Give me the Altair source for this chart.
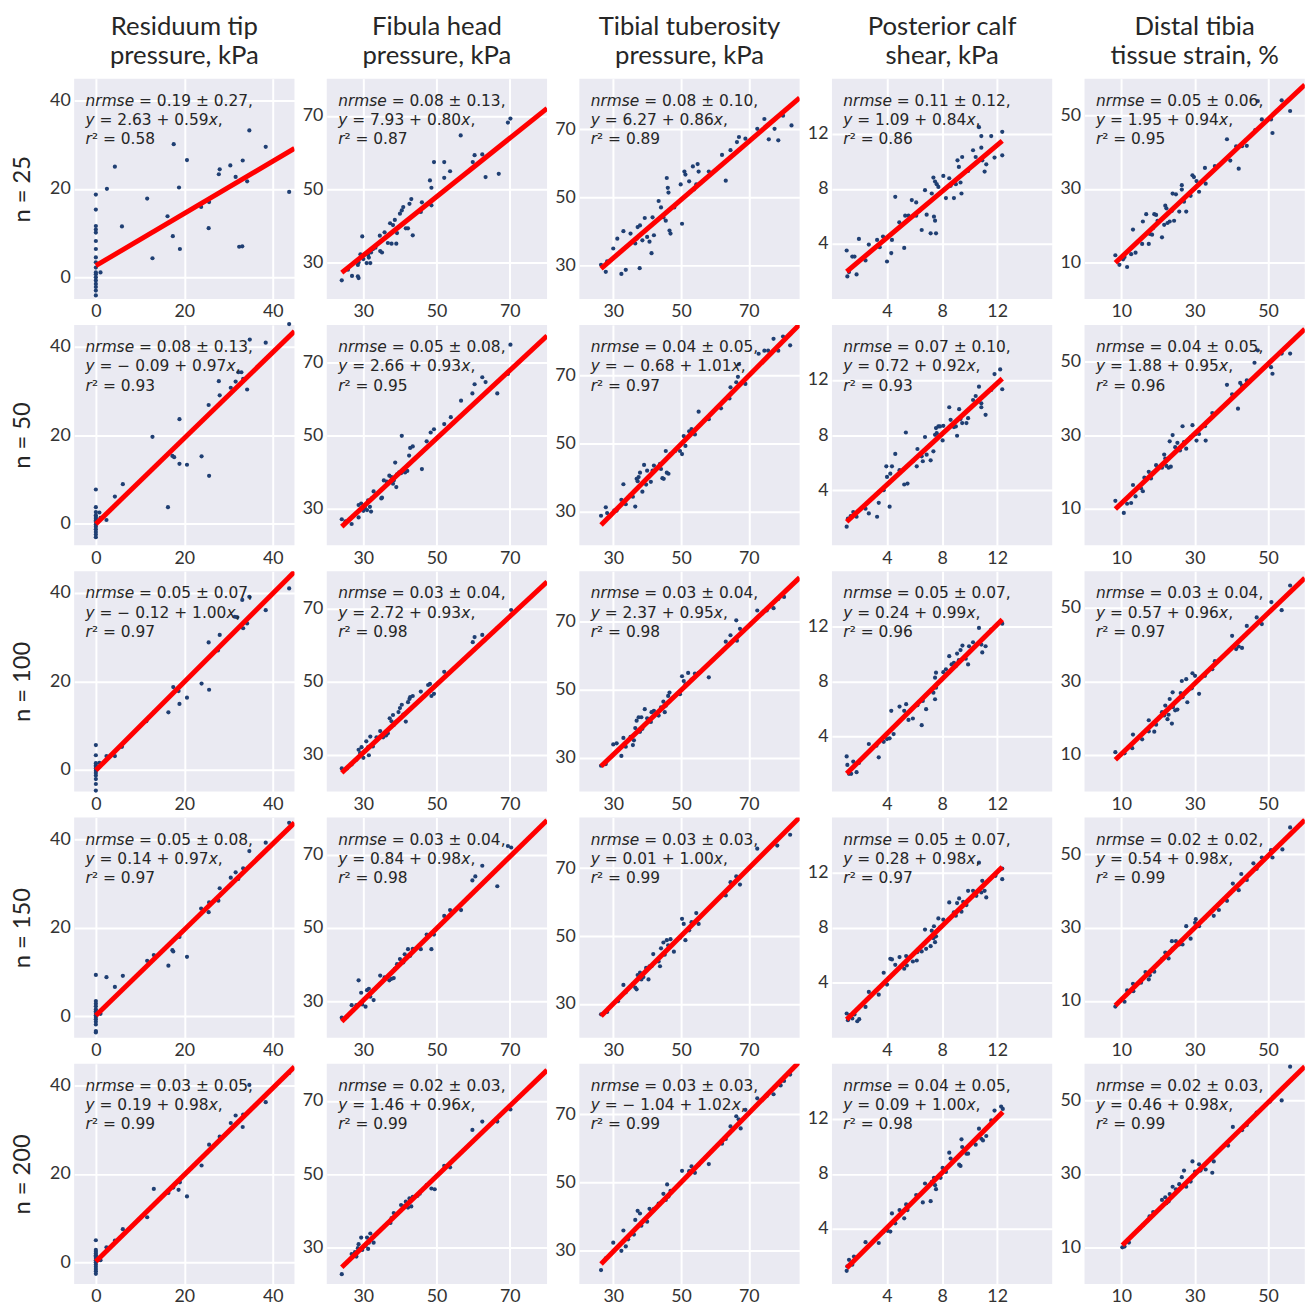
import altair as alt
import pandas as pd

COL_TITLES = [["Residuum tip", "pressure, kPa"], ["Fibula head", "pressure, kPa"],
              ["Tibial tuberosity", "pressure, kPa"], ["Posterior calf", "shear, kPa"],
              ["Distal tibia", "tissue strain, %"]]
ROW_LABELS = ["n = 25", "n = 50", "n = 100", "n = 150", "n = 200"]
DOMAINS = [[-4.9, 44.9], [20.0, 80.2], [20.0, 85.0], [0.0, 16.0], [0.0, 60.0]]
TICKS = [[0, 20, 40], [30, 50, 70], [30, 50, 70], [4, 8, 12], [10, 30, 50]]
LINE_TO_EDGE = [True, True, True, False, True]

NRMSE_MEAN = [[0.19, 0.08, 0.08, 0.11, 0.05], [0.08, 0.05, 0.04, 0.07, 0.04],
              [0.05, 0.03, 0.03, 0.05, 0.03], [0.05, 0.03, 0.03, 0.05, 0.02],
              [0.03, 0.02, 0.03, 0.04, 0.02]]
NRMSE_STD = [[0.27, 0.13, 0.10, 0.12, 0.06], [0.13, 0.08, 0.05, 0.10, 0.05],
             [0.07, 0.04, 0.04, 0.07, 0.04], [0.08, 0.04, 0.03, 0.07, 0.02],
             [0.05, 0.03, 0.03, 0.05, 0.03]]
INTERCEPT = [[2.63, 7.93, 6.27, 1.09, 1.95], [-0.09, 2.66, -0.68, 0.72, 1.88],
             [-0.12, 2.72, 2.37, 0.24, 0.57], [0.14, 0.84, 0.01, 0.28, 0.54],
             [0.19, 1.46, -1.04, 0.09, 0.46]]
SLOPE = [[0.59, 0.80, 0.86, 0.84, 0.94], [0.97, 0.93, 1.01, 0.92, 0.95],
         [1.00, 0.93, 0.95, 0.99, 0.96], [0.97, 0.98, 1.00, 0.98, 0.98],
         [0.98, 0.96, 1.02, 1.00, 0.98]]
R2 = [[0.58, 0.87, 0.89, 0.86, 0.95], [0.93, 0.95, 0.97, 0.93, 0.96],
      [0.97, 0.98, 0.98, 0.96, 0.97], [0.97, 0.98, 0.99, 0.97, 0.99],
      [0.99, 0.99, 0.99, 0.98, 0.99]]

# ---- points (true value, predicted value) per panel ----
r1c1 = [(0, 18.7), (0, 15.3), (0, 11.6), (0, 10.8), (0, 10.1), (0, 8.2), (0, 6.4), (0, 4.5), (0, 3.4),
        (0, 2.2), (0, 1.1), (0, 0.7), (0, 0.0), (0, -0.7), (0, -1.5), (0, -2.2), (0, -3.0), (0, -4.1),
        (1.05, 1.1), (2.5, 20.0), (4.3, 25.0), (5.9, 11.5), (11.6, 17.8), (12.8, 4.3), (16.2, 13.8),
        (17.4, 9.3), (17.6, 30.1), (18.8, 20.3), (19.0, 6.4), (20.6, 26.5), (23.8, 15.9), (25.6, 17.0),
        (25.5, 11.1), (27.8, 23.3), (28.0, 24.4), (30.4, 25.3), (31.6, 22.7), (32.4, 6.9), (33.1, 7.0),
        (33.2, 26.4), (34.2, 21.7), (34.7, 33.2), (38.4, 29.5), (43.7, 19.3)]
r1c2 = [(24.1, 25.1), (25.8, 28.0), (26.9, 26.3), (28.5, 26.2), (28.7, 25.7), (28.5, 29.3), (28.7, 30.0),
        (29.2, 32.2), (29.7, 37.1), (30.0, 30.9), (30.5, 32.2), (30.9, 29.8), (31.3, 32.0), (31.5, 31.3),
        (31.9, 29.8), (32.1, 32.7), (32.6, 33.6), (33.3, 34.0), (34.6, 33.1), (35.1, 32.7), (34.5, 37.3),
        (35.8, 38.2), (36.7, 35.3), (37.7, 35.1), (39.0, 35.1), (37.3, 40.7), (38.1, 40.2), (38.6, 41.6),
        (39.2, 38.0), (40.0, 43.3), (40.5, 44.2), (40.9, 45.1), (41.6, 39.3), (42.2, 39.3), (42.6, 46.0),
        (43.1, 47.3), (43.5, 37.4), (45.7, 43.8), (46.0, 46.4), (48.2, 52.4), (48.6, 50.4), (48.6, 45.6),
        (49.3, 57.4), (52.1, 57.4), (52.1, 53.1), (53.7, 54.9), (56.6, 64.7), (59.9, 57.4), (60.4, 59.3),
        (62.5, 59.5), (63.4, 53.3), (67.0, 54.2), (69.5, 68.2), (70.2, 69.3)]
r1c3 = [(26.4, 30.1), (27.8, 28.0), (28.2, 31.1), (30.0, 34.9), (31.2, 37.8), (32.4, 27.4), (33.7, 28.6),
        (33.0, 40.0), (35.1, 39.3), (35.8, 36.9), (36.5, 36.4), (36.9, 37.8), (37.2, 41.2), (37.9, 41.7),
        (37.8, 29.1), (38.6, 37.3), (39.3, 43.9), (40.0, 38.3), (40.7, 36.9), (41.3, 33.5), (41.6, 44.1),
        (42.0, 38.8), (43.4, 48.9), (44.1, 47.0), (44.8, 44.1), (45.5, 43.1), (45.8, 55.7), (46.1, 52.8),
        (46.3, 51.4), (46.6, 40.2), (46.9, 39.3), (48.0, 47.0), (49.9, 53.8), (50.3, 42.2), (51.0, 57.6),
        (51.3, 56.7), (52.4, 54.7), (53.5, 59.1), (53.8, 52.3), (54.5, 53.8), (54.9, 59.8), (55.2, 57.6),
        (58.2, 57.6), (62.1, 62.5), (63.2, 54.9), (64.6, 63.9), (66.5, 66.3), (67.1, 67.8), (69.0, 67.3),
        (72.5, 70.2), (74.6, 73.1), (75.9, 67.1), (77.6, 70.2), (78.7, 66.8), (80.1, 74.1), (82.6, 71.2)]
r1c4 = [(1.07, 3.52), (1.12, 1.64), (1.24, 1.95), (1.48, 3.08), (1.64, 3.08), (1.79, 1.78), (1.96, 4.36),
        (2.44, 2.80), (2.68, 3.95), (3.28, 4.29), (3.47, 3.76), (3.71, 4.53), (4.0, 2.72), (4.31, 3.33),
        (4.36, 4.29), (4.60, 7.42), (4.89, 5.57), (5.25, 3.71), (5.32, 6.05), (5.56, 6.05), (5.80, 7.18),
        (6.12, 7.01), (6.12, 6.05), (6.36, 6.41), (6.52, 5.01), (6.76, 7.90), (6.88, 6.12), (7.17, 4.77),
        (7.25, 7.66), (7.37, 8.82), (7.41, 5.98), (7.49, 5.69), (7.49, 8.53), (7.56, 4.77), (7.61, 8.34),
        (7.73, 8.14), (7.85, 7.66), (8.09, 8.94), (8.28, 7.33), (8.52, 8.77), (8.62, 8.22), (8.86, 7.33),
        (9.0, 8.34), (9.12, 10.07), (9.22, 9.59), (9.34, 8.46), (9.41, 7.66), (9.46, 10.31), (9.89, 9.30),
        (10.25, 10.80), (10.44, 10.31), (10.68, 12.48), (10.85, 11.83), (10.85, 10.99), (10.92, 10.07),
        (11.09, 9.25), (11.21, 9.78), (11.57, 11.83), (11.81, 10.27), (12.37, 12.14), (12.37, 10.43)]
r1c5 = [(8.4, 11.9), (9.5, 9.3), (10.5, 10.8), (10.9, 11.4), (11.6, 8.7), (12.7, 12.2), (13.2, 18.9),
        (13.9, 12.6), (15.9, 21.1), (15.7, 15.0), (16.8, 23.1), (17.5, 15.0), (17.8, 17.7), (18.4, 17.5),
        (18.7, 19.3), (19.0, 23.1), (19.5, 22.9), (19.9, 21.3), (21.1, 16.8), (21.7, 20.2), (22.0, 25.4),
        (22.3, 24.7), (22.6, 20.7), (23.2, 21.1), (23.8, 24.0), (24.4, 21.3), (24.0, 28.7), (24.9, 28.5),
        (25.8, 23.8), (26.5, 31.0), (26.5, 29.8), (27.1, 26.5), (27.7, 23.8), (28.9, 28.1), (29.4, 33.7),
        (29.8, 33.2), (30.5, 32.1), (31.2, 29.2), (32.8, 35.7), (33.0, 31.4), (35.5, 36.2), (36.6, 36.4),
        (38.8, 43.5), (39.7, 37.7), (41.3, 41.6), (42.0, 35.5), (42.9, 41.6), (44.2, 41.7), (46.5, 46.0),
        (47.2, 53.9), (48.3, 48.9), (50.8, 48.9), (51.2, 45.2), (53.7, 54.1), (56.0, 51.2)]

r2c1 = [(0, 7.7), (0, 3.7), (0, 2.6), (0, 1.9), (0, 1.5), (0, 1.1), (0, 0.7), (0, 0.4), (0, -0.2), (0, -0.7),
        (0, -1.3), (0, -1.9), (0, -2.5), (0, -3.1), (0.8, 2.5), (1.05, 1.3), (2.4, 0.8), (4.3, 6.1),
        (6.1, 8.9), (12.8, 19.6), (16.3, 3.7), (17.3, 15.3), (17.7, 15.0), (18.9, 23.6), (18.9, 13.5),
        (20.6, 13.3), (23.9, 15.2), (25.5, 26.8), (25.6, 10.8), (27.8, 32.2), (28.0, 29.0), (30.5, 30.7),
        (31.6, 32.1), (32.2, 34.2), (32.9, 34.2), (33.3, 32.7), (34.2, 30.3), (34.8, 41.6), (38.4, 40.9),
        (43.7, 45.1)]
r2c2 = [(24.1, 27.1), (25.1, 26.5), (26.8, 25.8), (28.7, 27.6), (28.7, 31.0), (29.4, 31.4), (30.0, 29.4),
        (30.4, 30.3), (31.0, 29.6), (31.3, 32.3), (31.8, 30.5), (32.1, 29.2), (32.3, 32.8), (32.8, 34.7),
        (34.9, 32.8), (35.1, 33.0), (35.6, 37.7), (36.4, 37.4), (37.1, 39.0), (37.7, 38.6), (38.1, 36.8),
        (38.3, 37.7), (38.7, 42.6), (39.0, 35.9), (39.2, 39.4), (39.8, 39.9), (40.3, 39.7), (40.5, 49.9),
        (40.9, 40.3), (41.4, 39.9), (42.0, 40.3), (42.5, 44.5), (42.8, 46.6), (43.5, 47.0), (46.0, 40.8),
        (47.3, 48.4), (48.4, 50.8), (49.3, 51.7), (52.1, 53.1), (53.9, 55.0), (56.7, 59.5), (59.8, 61.5),
        (60.4, 64.0), (62.5, 65.9), (63.4, 64.6), (66.6, 61.5), (69.5, 66.8), (70.2, 74.8)]
r2c3 = [(26.4, 28.7), (27.8, 31.2), (28.2, 29.5), (30.3, 30.2), (31.0, 30.2), (32.4, 33.4), (33.0, 38.0),
        (33.7, 32.1), (35.1, 34.8), (35.8, 34.3), (36.5, 31.4), (36.9, 39.6), (37.2, 38.9), (37.5, 40.1),
        (37.9, 41.4), (38.6, 35.8), (39.1, 43.7), (39.7, 37.9), (40.0, 42.0), (41.1, 38.7), (41.6, 42.0),
        (42.0, 43.5), (42.7, 42.5), (43.8, 44.0), (44.1, 42.5), (44.5, 39.8), (44.9, 39.6), (45.5, 47.8),
        (45.8, 41.4), (46.3, 41.1), (46.9, 46.9), (48.3, 47.8), (49.7, 47.8), (50.3, 46.9), (50.8, 52.2),
        (51.3, 49.3), (52.4, 53.6), (53.1, 54.3), (54.1, 52.7), (55.2, 59.4), (58.2, 57.2), (61.8, 60.4),
        (64.3, 63.3), (64.6, 66.6), (66.3, 68.1), (66.8, 69.7), (67.1, 73.4), (69.0, 67.6), (72.9, 76.5),
        (74.6, 77.4), (75.7, 77.4), (77.3, 80.9), (80.1, 81.6), (78.7, 77.4), (82.2, 79.0)]
r2c4 = [(1.07, 1.35), (1.16, 1.93), (1.36, 2.12), (1.55, 2.41), (1.79, 2.07), (2.44, 2.65), (2.68, 2.31),
        (3.28, 2.07), (3.40, 3.08), (3.76, 4.0), (3.95, 5.73), (4.0, 4.96), (4.19, 2.80), (4.24, 5.20),
        (4.36, 5.73), (4.60, 6.63), (4.91, 5.45), (5.25, 4.41), (5.37, 8.19), (5.49, 4.48), (5.88, 6.10),
        (6.16, 5.73), (6.21, 6.99), (6.52, 6.46), (6.60, 6.10), (6.76, 7.86), (6.88, 6.58), (7.17, 6.17),
        (7.37, 6.82), (7.49, 8.02), (7.56, 8.51), (7.61, 8.14), (7.73, 8.63), (7.85, 8.63), (8.04, 7.61),
        (8.09, 8.67), (8.52, 10.02), (8.62, 9.11), (8.86, 8.58), (9.0, 8.63), (9.09, 7.95), (9.24, 9.88),
        (9.34, 9.16), (9.46, 8.87), (9.77, 8.87), (9.89, 9.23), (10.25, 10.55), (10.44, 10.84),
        (10.68, 11.52), (10.85, 10.31), (10.85, 10.02), (11.16, 9.47), (11.57, 11.28), (11.81, 12.43),
        (12.22, 12.77), (12.37, 11.33)]
r2c5 = [(8.4, 12.1), (10.7, 8.8), (11.6, 11.3), (12.7, 11.5), (13.2, 16.4), (13.9, 13.3), (15.4, 15.5),
        (15.9, 14.7), (16.3, 18.4), (17.5, 20.0), (18.1, 18.2), (18.7, 19.8), (19.5, 21.8), (19.9, 21.1),
        (21.1, 21.1), (21.7, 24.7), (22.0, 23.6), (22.3, 21.6), (22.9, 21.1), (23.5, 21.4), (23.2, 28.3),
        (24.0, 30.0), (24.7, 26.7), (25.3, 27.9), (26.0, 25.8), (26.7, 32.4), (27.1, 28.1), (27.7, 26.3),
        (28.9, 29.4), (29.4, 32.7), (30.3, 30.3), (30.5, 28.5), (31.2, 30.3), (32.8, 32.4), (33.0, 28.5),
        (34.8, 36.0), (38.8, 43.7), (40.2, 41.1), (41.8, 37.2), (42.4, 44.2), (42.9, 43.5), (44.2, 44.9),
        (46.3, 49.7), (47.2, 53.1), (50.8, 48.5), (51.2, 46.7), (53.7, 52.2), (56.0, 52.2)]

r3c1 = [(0, 5.6), (0, 3.3), (0, 1.5), (0, 1.0), (0, 0.7), (0, 0.3), (0, -0.2), (0, -0.7), (0, -1.3), (0, -2.1),
        (0, -3.2), (0, -4.7), (0.8, 1.6), (2.4, 3.1), (4.3, 3.1), (5.9, 5.2), (11.4, 11.0), (13.1, 13.0),
        (16.4, 13.0), (17.5, 18.7), (18.7, 17.8), (18.9, 14.9), (20.6, 16.3), (23.9, 19.5), (25.5, 28.8),
        (25.6, 18.1), (27.6, 27.0), (28.0, 30.5), (31.4, 34.6), (31.9, 34.5), (33.1, 38.4), (33.3, 32.0),
        (34.2, 33.1), (34.7, 39.1), (38.4, 36.1), (43.7, 41.0)]
r3c2 = [(24.1, 26.3), (25.5, 26.3), (26.8, 27.4), (28.1, 28.7), (28.7, 31.4), (29.1, 30.5), (29.5, 32.1),
        (30.0, 29.2), (30.4, 31.0), (30.8, 33.7), (31.3, 32.1), (31.5, 29.9), (31.9, 35.0), (32.6, 32.3),
        (33.6, 34.8), (34.6, 36.5), (35.4, 34.8), (36.2, 35.3), (36.7, 35.9), (37.2, 40.0), (37.7, 39.2),
        (38.1, 40.9), (38.3, 38.2), (39.0, 39.1), (39.6, 41.7), (40.0, 42.8), (40.5, 43.7), (40.9, 41.0),
        (41.6, 39.1), (42.2, 44.4), (42.6, 45.3), (42.8, 45.8), (43.5, 46.1), (45.7, 47.3), (47.7, 49.1),
        (48.2, 49.4), (48.6, 46.1), (49.3, 46.7), (52.1, 52.7), (59.9, 60.8), (60.4, 62.2), (62.5, 62.8),
        (63.1, 61.3), (66.6, 64.6), (70.4, 69.6)]
r3c3 = [(26.4, 27.6), (27.8, 28.1), (30.0, 33.9), (31.0, 34.2), (32.4, 30.5), (33.0, 35.8), (33.7, 33.2),
        (35.1, 36.1), (35.8, 33.7), (36.1, 35.1), (36.5, 38.7), (36.9, 40.9), (37.5, 41.9), (37.9, 37.6),
        (38.3, 41.9), (38.6, 38.5), (39.3, 44.3), (40.0, 41.6), (41.1, 40.5), (41.3, 43.4), (42.0, 43.8),
        (43.4, 42.4), (44.1, 44.8), (44.8, 46.5), (45.2, 43.4), (45.5, 45.3), (46.2, 48.2), (46.6, 49.2),
        (49.7, 48.7), (50.3, 54.0), (50.8, 52.6), (51.3, 51.6), (52.1, 55.0), (53.1, 53.0), (54.1, 54.8),
        (55.2, 55.0), (58.2, 53.7), (62.1, 61.3), (63.2, 64.2), (64.6, 66.1), (66.3, 70.5), (66.5, 64.5),
        (67.4, 68.0), (72.5, 73.4), (75.3, 73.4), (77.3, 74.1), (78.7, 76.8), (80.4, 77.4)]
r3c4 = [(1.07, 2.55), (1.12, 1.93), (1.24, 1.28), (1.40, 1.28), (1.55, 2.17), (1.79, 1.40), (1.96, 2.07),
        (2.68, 3.45), (3.23, 3.33), (3.40, 2.48), (3.76, 3.61), (4.0, 3.81), (4.19, 3.86), (4.31, 5.86),
        (4.48, 4.17), (4.91, 6.17), (5.25, 5.86), (5.39, 6.34), (5.56, 5.20), (5.88, 5.30), (6.21, 6.27),
        (6.52, 4.82), (6.60, 6.58), (6.84, 5.98), (7.37, 7.18), (7.49, 6.70), (7.49, 8.27), (7.56, 8.63),
        (7.56, 7.54), (8.09, 8.67), (8.28, 8.87), (8.52, 9.83), (8.69, 9.23), (8.86, 9.35), (9.0, 9.11),
        (9.09, 10.02), (9.22, 9.54), (9.34, 10.27), (9.48, 10.60), (9.72, 9.64), (9.89, 9.23), (9.96, 10.55),
        (10.25, 10.84), (10.68, 11.88), (10.92, 10.10), (10.85, 10.67), (11.16, 10.55), (11.57, 11.76),
        (12.37, 12.19)]
r3c5 = [(8.4, 10.7), (10.9, 10.4), (13.0, 11.8), (13.2, 15.5), (15.7, 14.2), (17.5, 19.4), (17.5, 16.4),
        (19.0, 16.3), (19.5, 18.2), (21.1, 21.6), (21.7, 20.7), (22.0, 23.4), (22.6, 19.7), (22.9, 20.9),
        (23.2, 25.2), (23.8, 18.5), (24.0, 27.0), (24.1, 23.0), (24.7, 22.1), (25.3, 22.3), (26.2, 26.8),
        (26.5, 30.1), (26.7, 25.7), (27.7, 30.6), (28.0, 24.3), (29.2, 28.1), (29.4, 32.2), (30.1, 31.5),
        (31.2, 26.6), (31.2, 30.6), (32.8, 31.5), (34.8, 33.3), (35.5, 35.5), (40.2, 42.4), (41.3, 38.8),
        (42.0, 39.5), (42.9, 39.1), (44.2, 45.1), (46.9, 47.4), (48.3, 45.6), (50.9, 51.6), (53.7, 49.4),
        (56.0, 56.1)]

r4c1 = [(0, 9.3), (0, 3.4), (0, 2.8), (0, 2.2), (0, 1.5), (0, 1.1), (0, 0.7), (0, 0.2), (0, -0.2), (0, -0.7),
        (0, -1.3), (0, -1.9), (0, -3.4), (0, -3.7), (1.05, 0.5), (2.4, 8.8), (4.3, 6.6), (6.1, 9.1),
        (11.6, 12.5), (13.1, 13.8), (16.4, 11.4), (17.3, 14.9), (17.5, 14.6), (18.9, 17.9), (20.6, 13.4),
        (23.8, 24.3), (25.5, 23.5), (25.6, 25.7), (27.7, 26.1), (28.0, 28.9), (30.5, 31.3), (31.6, 32.5),
        (32.2, 31.0), (33.3, 33.4), (34.7, 37.3), (38.4, 39.2), (43.7, 43.7)]
r4c2 = [(24.1, 25.5), (25.6, 25.8), (26.8, 28.9), (28.1, 28.9), (28.7, 35.7), (29.4, 32.3), (29.7, 29.1),
        (30.6, 28.5), (31.0, 33.0), (31.5, 33.4), (31.9, 31.2), (32.8, 30.3), (34.6, 37.0), (35.8, 36.5),
        (37.1, 35.7), (37.7, 36.1), (38.3, 36.3), (38.6, 38.8), (39.2, 40.1), (40.0, 41.5), (40.9, 40.6),
        (41.3, 42.8), (42.2, 44.2), (42.8, 42.4), (43.5, 44.3), (45.7, 44.2), (47.3, 48.2), (48.6, 44.2),
        (49.3, 48.2), (52.1, 53.3), (53.7, 54.9), (56.7, 54.9), (59.8, 63.0), (60.6, 64.1), (62.5, 67.0),
        (66.6, 61.4), (69.5, 72.4), (70.4, 72.0)]
r4c3 = [(26.4, 26.9), (28.2, 27.6), (31.4, 30.8), (33.0, 35.6), (33.7, 33.4), (35.8, 35.8), (36.5, 34.8),
        (36.9, 34.3), (37.2, 38.5), (37.9, 39.2), (38.3, 37.2), (38.9, 37.9), (39.7, 40.6), (40.4, 37.2),
        (40.7, 41.1), (41.3, 41.1), (41.8, 44.7), (43.4, 42.5), (43.8, 41.1), (44.1, 46.4), (44.8, 48.1),
        (45.2, 44.5), (45.8, 48.8), (46.2, 47.3), (46.9, 49.1), (47.9, 45.4), (49.7, 49.5), (50.3, 55.1),
        (50.8, 53.6), (51.3, 48.8), (52.4, 51.7), (53.1, 54.1), (54.5, 56.8), (55.2, 53.6), (63.2, 62.0),
        (64.6, 65.9), (66.3, 67.6), (67.4, 65.2), (72.5, 75.8), (78.4, 76.7), (82.2, 79.9)]
r4c4 = [(1.07, 1.76), (1.16, 1.28), (1.31, 1.64), (1.48, 1.40), (1.64, 1.69), (1.84, 1.20), (1.98, 1.35),
        (2.44, 2.24), (2.68, 3.33), (3.40, 3.13), (3.76, 4.72), (4.0, 3.86), (4.24, 5.73), (4.36, 5.69),
        (4.60, 5.30), (4.91, 5.86), (5.25, 5.01), (5.39, 5.93), (5.44, 5.25), (5.88, 5.54), (6.16, 5.61),
        (6.21, 6.22), (6.52, 6.27), (6.76, 7.86), (6.84, 6.46), (7.17, 6.65), (7.25, 7.78), (7.37, 7.23),
        (7.41, 8.10), (7.49, 6.94), (7.56, 7.37), (7.73, 8.67), (7.85, 8.02), (8.09, 8.58), (8.52, 9.83),
        (8.86, 9.11), (9.0, 8.87), (9.09, 9.78), (9.24, 10.12), (9.41, 9.16), (9.53, 9.88), (9.77, 9.64),
        (9.89, 10.67), (10.25, 10.67), (10.49, 10.31), (10.68, 12.72), (10.85, 10.55), (10.92, 11.40),
        (11.09, 10.67), (11.21, 10.19), (11.88, 11.76), (12.37, 12.29), (12.37, 11.52)]
r4c5 = [(8.4, 8.5), (10.9, 9.8), (11.6, 12.9), (13.2, 14.7), (13.3, 12.7), (15.4, 15.0), (16.6, 17.9),
        (17.5, 15.9), (17.8, 17.0), (19.0, 18.0), (21.1, 21.4), (22.0, 23.2), (22.9, 21.6), (23.2, 23.2),
        (23.8, 26.3), (24.0, 24.3), (24.9, 26.3), (25.8, 25.4), (26.7, 25.4), (27.7, 30.4), (28.9, 27.0),
        (30.1, 31.3), (30.3, 32.3), (31.2, 30.4), (32.8, 32.6), (35.2, 33.2), (36.6, 34.8), (38.8, 37.3),
        (40.4, 42.0), (42.0, 40.2), (42.7, 44.6), (44.2, 43.0), (46.0, 47.5), (46.9, 46.0), (48.3, 49.1),
        (50.8, 51.1), (51.2, 49.1), (53.9, 51.3), (56.0, 57.3)]

r5c1 = [(0, 5.0), (0, 2.8), (0, 2.4), (0, 2.0), (0, 1.6), (0, 1.3), (0, 1.0), (0, 0.5), (0, 0.0), (0, -0.5),
        (0, -1.0), (0, -1.5), (0, -2.0), (0, -2.6), (1.05, 0.5), (2.4, 3.4), (4.3, 4.9), (6.1, 7.5),
        (11.6, 10.2), (13.1, 16.6), (16.4, 15.7), (17.5, 16.9), (18.7, 16.4), (19.0, 18.1), (20.6, 14.9),
        (23.9, 21.9), (25.6, 26.6), (28.0, 28.4), (30.5, 31.5), (31.6, 33.2), (33.2, 30.6), (33.3, 33.4),
        (34.7, 40.1), (38.4, 36.2), (43.7, 42.8)]
r5c2 = [(24.1, 22.7), (26.8, 28.2), (27.7, 28.7), (28.1, 27.5), (28.5, 29.8), (28.7, 30.9), (29.4, 32.7),
        (29.7, 29.3), (30.6, 30.4), (31.0, 32.7), (31.3, 29.6), (31.5, 31.3), (31.9, 33.8), (32.8, 31.3),
        (37.4, 36.7), (37.7, 38.0), (38.3, 39.4), (39.0, 38.9), (40.3, 41.6), (40.9, 41.2), (41.6, 42.5),
        (42.2, 40.9), (42.6, 43.4), (43.1, 41.2), (43.5, 43.8), (44.8, 44.1), (45.4, 44.7), (47.3, 47.0),
        (48.6, 46.1), (49.5, 45.9), (52.1, 52.3), (53.7, 51.9), (59.8, 62.1), (62.5, 64.4), (66.6, 64.4),
        (70.2, 67.7)]
r5c3 = [(26.4, 24.1), (27.8, 27.6), (30.0, 32.2), (32.4, 29.8), (33.0, 35.8), (33.7, 31.1), (34.4, 33.2),
        (36.1, 34.6), (36.5, 38.9), (37.2, 41.6), (37.9, 40.8), (38.3, 37.2), (40.0, 38.4), (40.7, 42.2),
        (41.3, 41.6), (42.0, 42.2), (43.4, 43.7), (44.8, 46.6), (45.5, 44.8), (45.9, 49.4), (46.3, 45.8),
        (46.9, 47.5), (50.3, 53.4), (52.4, 53.3), (53.1, 54.7), (54.1, 52.8), (55.2, 55.2), (58.2, 55.4),
        (62.1, 61.4), (63.2, 62.8), (64.6, 66.5), (66.3, 69.5), (67.0, 68.6), (67.6, 65.9), (69.0, 71.4),
        (72.5, 74.8), (75.3, 75.5), (77.3, 76.0), (79.4, 78.6), (80.4, 79.9), (82.2, 81.8)]
r5c4 = [(1.07, 0.96), (1.12, 1.28), (1.24, 1.76), (1.48, 1.40), (1.60, 2.0), (2.44, 3.04), (3.40, 2.98),
        (3.71, 3.76), (4.05, 3.86), (4.24, 3.81), (4.36, 5.13), (4.60, 4.41), (4.91, 5.37), (5.25, 4.77),
        (5.39, 5.78), (5.49, 5.37), (6.12, 6.46), (6.21, 6.41), (6.60, 5.93), (6.76, 7.30), (7.17, 6.02),
        (7.25, 7.42), (7.41, 7.71), (7.49, 7.18), (7.56, 6.89), (7.89, 7.71), (8.04, 8.43), (8.28, 8.14),
        (8.52, 9.54), (8.62, 9.11), (9.24, 8.67), (9.34, 8.58), (9.41, 10.51), (9.46, 9.95), (9.77, 9.47),
        (9.89, 9.47), (10.44, 10.12), (10.68, 11.28), (10.85, 10.55), (10.97, 10.43), (11.21, 10.75),
        (11.57, 11.88), (11.81, 12.60), (12.29, 12.89), (12.41, 12.72)]
r5c5 = [(10.3, 10.0), (10.9, 10.2), (12.1, 11.3), (15.0, 15.1), (15.9, 16.0), (17.2, 17.3), (17.7, 18.4),
        (18.7, 19.6), (21.1, 22.9), (22.0, 23.6), (22.3, 22.0), (22.9, 22.5), (23.2, 24.5), (24.0, 26.5),
        (24.9, 25.8), (25.8, 27.2), (26.5, 29.1), (27.1, 30.9), (27.7, 26.5), (28.9, 27.9), (29.4, 33.4),
        (30.1, 30.6), (31.2, 32.6), (31.6, 30.9), (33.0, 31.2), (34.8, 30.3), (35.2, 33.4), (39.1, 37.7),
        (40.4, 42.8), (42.9, 41.9), (44.2, 43.3), (46.9, 46.7), (50.5, 49.7), (53.7, 50.0), (56.0, 59.2)]

PANELS = [[r1c1, r1c2, r1c3, r1c4, r1c5], [r2c1, r2c2, r2c3, r2c4, r2c5],
          [r3c1, r3c2, r3c3, r3c4, r3c5], [r4c1, r4c2, r4c3, r4c4, r4c5],
          [r5c1, r5c2, r5c3, r5c4, r5c5]]

# ---- style ----
W = 223
H = 223
BG = "#EAEAF2"
PT = "#1f3f73"
TXT = "#262626"
FS = 15.6
FONT_ANN = "DejaVu Sans"
ADV = {' ': 651, ',': 651, '.': 651, '=': 1716, '+': 1716, '\u00b1': 1716, '\u2212': 1716,
       'x': 1212, 'y': 1212, 'r': 842, 'n': 1298, 'm': 1995, 's': 1067, 'e': 1260, '\u00b2': 821}


def tw(s):
    return sum(ADV.get(ch, 1303) for ch in s) / 2048.0 * FS


def fnum(v):
    return f"{v:.2f}" if v >= 0 else "\u2212 " + f"{-v:.2f}"


def txt(s, x, y, italic):
    # SVG drops leading blanks, so move them into the x offset
    lead = len(s) - len(s.lstrip(" "))
    x = x + tw(" " * lead)
    s = s.lstrip(" ")
    kw = dict(align="left", baseline="alphabetic", font=FONT_ANN, fontSize=FS, color=TXT)
    if italic:
        kw["fontStyle"] = "italic"
    return alt.Chart(pd.DataFrame({"t": [s]})).mark_text(**kw).encode(
        x=alt.value(x), y=alt.value(y), text="t:N")


def panel(r, c):
    pts = PANELS[r][c]
    df = pd.DataFrame({"x": [p[0] for p in pts], "y": [p[1] for p in pts]})
    sc = alt.Scale(domain=DOMAINS[c], nice=False, zero=False)
    common = dict(values=TICKS[c], grid=True, gridColor="white", gridWidth=2, domain=False,
                  ticks=False, labelFont="Lato", labelFontSize=18, labelColor="#333333",
                  labelPadding=4, labelFlush=False, labelOverlap=False)
    xaxis = alt.Axis(title=None, **common)
    if c == 0:
        yaxis = alt.Axis(title=ROW_LABELS[r], titleFont="Lato", titleFontSize=24,
                         titleFontWeight="normal", titleColor=TXT, titlePadding=15, **common)
    else:
        yaxis = alt.Axis(title=None, **common)
    scatter = alt.Chart(df).mark_circle(size=18, color=PT, opacity=1).encode(
        x=alt.X("x:Q", scale=sc, axis=xaxis), y=alt.Y("y:Q", scale=sc, axis=yaxis))
    a, b = INTERCEPT[r][c], SLOPE[r][c]
    x0 = float(df["x"].min())
    x1 = DOMAINS[c][1] if LINE_TO_EDGE[c] else float(df["x"].max())
    ldf = pd.DataFrame({"x": [x0, x1], "y": [a + b * x0, a + b * x1]})
    line = alt.Chart(ldf).mark_line(color="#ff0000", strokeWidth=5, clip=True).encode(
        x="x:Q", y="y:Q")

    X0 = 11.5
    Y1, Y2, Y3 = 27.5, 47.0, 66.5
    s1 = f" = {NRMSE_MEAN[r][c]:.2f} \u00b1 {NRMSE_STD[r][c]:.2f},"
    s2 = f" = {fnum(a)} + {b:.2f}"
    s3 = f"\u00b2 = {R2[r][c]:.2f}"
    texts = [
        txt("nrmse", X0, Y1, True),
        txt(s1, X0 + tw("nrmse"), Y1, False),
        txt("y", X0, Y2, True),
        txt(s2, X0 + tw("y"), Y2, False),
        txt("x", X0 + tw("y") + tw(s2), Y2, True),
        txt(",", X0 + tw("y") + tw(s2) + tw("x"), Y2, False),
        txt("r", X0, Y3, True),
        txt(s3, X0 + tw("r"), Y3, False),
    ]
    ch = alt.layer(scatter, line, *texts).properties(width=W, height=H)
    if r == 0:
        ch = ch.properties(title=alt.TitleParams(
            text=COL_TITLES[c], font="Lato", fontSize=26, fontWeight="normal", color=TXT,
            lineHeight=29, offset=10, anchor="middle"))
    return ch


charts = [panel(r, c) for r in range(5) for c in range(5)]
chart = alt.concat(*charts, columns=5, spacing={"row": 26.3, "column": 32.7}, bounds="flush").properties(
    padding={"left": 3, "top": -1.5, "right": 0, "bottom": 0}, background="white"
).configure_view(fill=BG, stroke=None)

chart.save("out.html", embed_options={"renderer": "svg", "actions": False})
